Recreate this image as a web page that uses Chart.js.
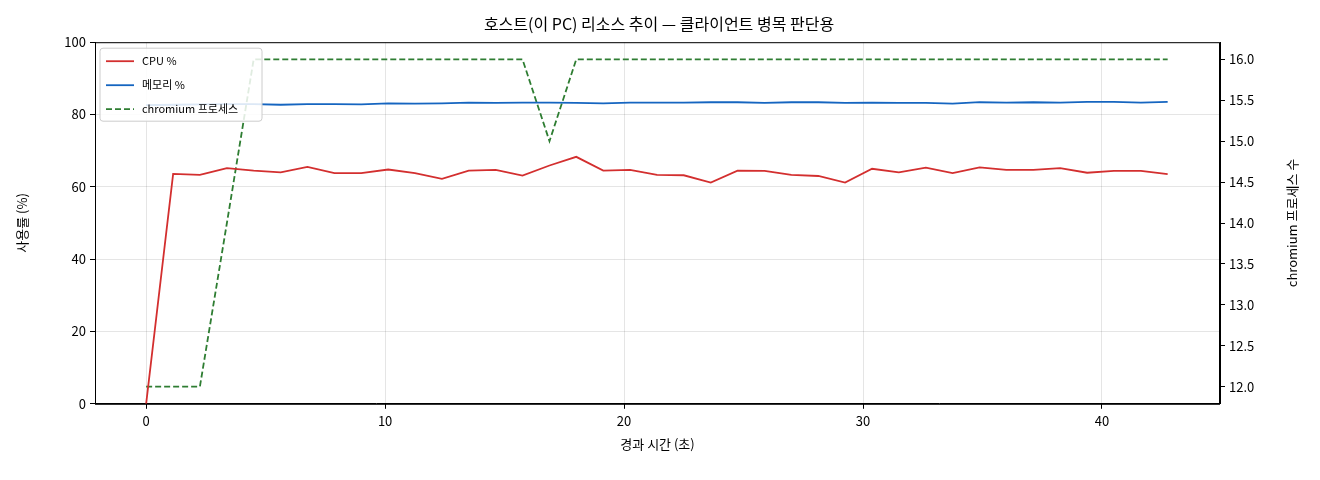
<!DOCTYPE html>
<html><head><meta charset="utf-8">
<script src="https://cdn.jsdelivr.net/npm/chart.js@4"></script>
<style>body{margin:0;background:#fff}#wrap{width:1320px;height:480px}</style>
</head><body><div id="wrap"><canvas id="c"></canvas></div>
<script>
const times = [0, 1.13, 2.25, 3.38, 4.5, 5.63, 6.75, 7.88, 9.0, 10.13, 11.25, 12.38, 13.5, 14.63, 15.75, 16.88, 18.0, 19.13, 20.25, 21.38, 22.5, 23.63, 24.75, 25.88, 27.0, 28.13, 29.25, 30.38, 31.5, 32.63, 33.75, 34.88, 36.0, 37.13, 38.25, 39.38, 40.5, 41.63, 42.75];
const cpu = [0, 63.6, 63.3, 65.2, 64.5, 64.0, 65.5, 63.8, 63.8, 64.8, 63.8, 62.2, 64.5, 64.7, 63.1, 65.9, 68.3, 64.5, 64.7, 63.3, 63.2, 61.2, 64.5, 64.4, 63.3, 63.0, 61.2, 65.0, 64.0, 65.3, 63.8, 65.4, 64.7, 64.7, 65.2, 63.9, 64.4, 64.4, 63.5];
const mem = [82.6, 82.7, 82.8, 82.9, 82.9, 82.7, 82.9, 82.9, 82.8, 83.1, 83.0, 83.1, 83.3, 83.2, 83.3, 83.3, 83.2, 83.1, 83.3, 83.3, 83.3, 83.4, 83.4, 83.2, 83.4, 83.4, 83.2, 83.3, 83.2, 83.2, 83.0, 83.4, 83.3, 83.4, 83.3, 83.5, 83.5, 83.3, 83.5];
const procs = [12, 12, 12, 14, 16, 16, 16, 16, 16, 16, 16, 16, 16, 16, 16, 15, 16, 16, 16, 16, 16, 16, 16, 16, 16, 16, 16, 16, 16, 16, 16, 16, 16, 16, 16, 16, 16, 16, 16];
const leftTicks = [0, 20, 40, 60, 80, 100];
const rightTicks = [12.0, 12.5, 13.0, 13.5, 14.0, 14.5, 15.0, 15.5, 16.0];
const xTicks = [0, 10, 20, 30, 40];

const FONT = "'Noto Sans CJK KR', 'DejaVu Sans', sans-serif";
Chart.defaults.font.family = FONT;
Chart.defaults.color = "#000";

const pts = (ys) => times.map((t, i) => ({ x: t, y: ys[i] }));

// 범례 상자, 테두리, 오른쪽 축 제목
const extras = {
    id: "extras",
    afterDraw(chart) {
        const ctx = chart.ctx;
        const a = chart.chartArea;
        ctx.save();
        // 테두리
        ctx.strokeStyle = "#000";
        ctx.lineWidth = 1;
        ctx.strokeRect(a.left + 0.5, a.top + 0.5, a.right - a.left - 1, a.bottom - a.top);
        // 오른쪽 축 제목 (아래에서 위로)
        ctx.translate(1292, (a.top + a.bottom) / 2);
        ctx.rotate(-Math.PI / 2);
        ctx.font = "13px " + FONT;
        ctx.fillStyle = "#000";
        ctx.textAlign = "center";
        ctx.textBaseline = "middle";
        ctx.fillText("chromium 프로세스 수", 0, 0);
        ctx.restore();

        ctx.save();
        const x = a.left + 5, y = a.top + 6, w = 162, h = 73;
        ctx.fillStyle = "rgba(255,255,255,0.85)";
        ctx.strokeStyle = "#ccc";
        ctx.lineWidth = 1;
        ctx.beginPath();
        ctx.roundRect(x, y, w, h, 3);
        ctx.fill();
        ctx.stroke();
        ctx.font = "11px " + FONT;
        ctx.textBaseline = "middle";
        chart.data.datasets.forEach((ds, i) => {
            const ly = y + 13 + i * 24;
            ctx.strokeStyle = ds.borderColor;
            ctx.lineWidth = 1.8;
            ctx.setLineDash(ds.borderDash || []);
            ctx.beginPath();
            ctx.moveTo(x + 6, ly);
            ctx.lineTo(x + 34, ly);
            ctx.stroke();
            ctx.setLineDash([]);
            ctx.fillStyle = "#000";
            ctx.fillText(ds.label, x + 42, ly);
        });
        ctx.restore();
    }
};

new Chart(document.getElementById("c"), {
    type: "line",
    data: {
        datasets: [
            { label: "CPU %", data: pts(cpu), borderColor: "#d32f2f", borderWidth: 1.8, pointRadius: 0, yAxisID: "y" },
            { label: "메모리 %", data: pts(mem), borderColor: "#1565c0", borderWidth: 1.8, pointRadius: 0, yAxisID: "y" },
            { label: "chromium 프로세스", data: pts(procs), borderColor: "#2e7d32", borderWidth: 1.8, borderDash: [6, 3], pointRadius: 0, yAxisID: "y1" }
        ]
    },
    options: {
        responsive: true,
        maintainAspectRatio: false,
        animation: false,
        layout: { padding: { left: 10, right: 12, top: 12, bottom: 24 } },
        plugins: {
            legend: { display: false },
            tooltip: { enabled: false },
            title: { display: true, text: "호스트(이 PC) 리소스 추이 — 클라이언트 병목 판단용", font: { size: 16, weight: "normal" }, padding: { top: 2, bottom: 9 } }
        },
        scales: {
            x: {
                type: "linear", min: -2.14, max: 44.94,
                afterBuildTicks: (s) => { s.ticks = xTicks.map(v => ({ value: v })); },
                ticks: { font: { size: 13 }, maxRotation: 0, padding: 4 },
                grid: { color: "rgba(0,0,0,0.1)", tickColor: "#000", tickLength: 5 },
                border: { color: "#000", width: 1 },
                title: { display: true, text: "경과 시간 (초)", font: { size: 13 } }
            },
            y: {
                position: "left", min: 0, max: 100,
                afterBuildTicks: (s) => { s.ticks = leftTicks.map(v => ({ value: v })); },
                afterFit: (s) => { s.width = 85; },
                ticks: { font: { size: 13 }, padding: 4 },
                grid: { color: "rgba(0,0,0,0.1)", tickColor: "#000", tickLength: 5 },
                border: { color: "#000", width: 1 },
                title: { display: true, text: "사용률 (%)", font: { size: 13 } }
            },
            y1: {
                position: "right", min: 11.79, max: 16.21,
                afterBuildTicks: (s) => { s.ticks = rightTicks.map(v => ({ value: v })); },
                afterFit: (s) => { s.width = 88; },
                ticks: { font: { size: 13 }, padding: 4, callback: (v) => v.toFixed(1) },
                grid: { drawOnChartArea: false, tickColor: "#000", tickLength: 5 },
                border: { color: "#000", width: 1 },
                title: { display: false }
            }
        }
    },
    plugins: [extras]
});
</script>
</body></html>
